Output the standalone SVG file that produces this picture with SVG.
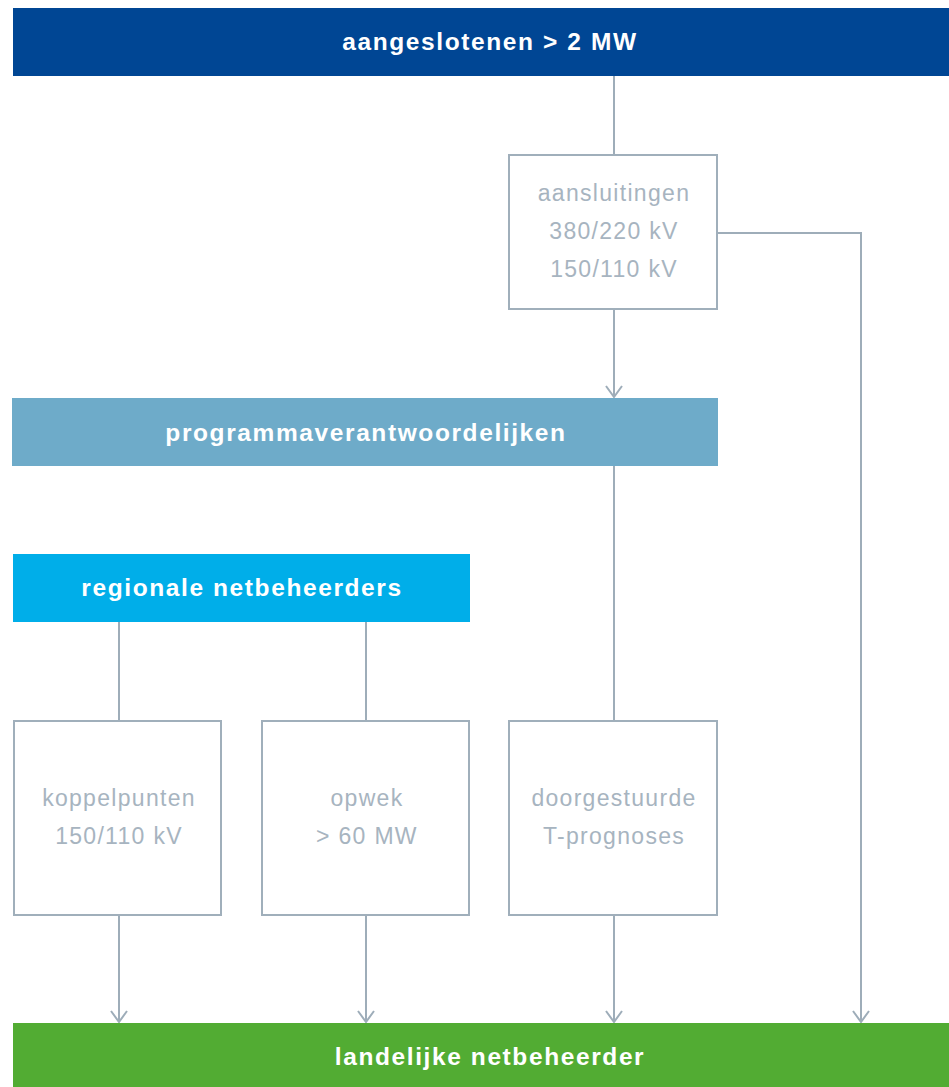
<svg xmlns="http://www.w3.org/2000/svg" width="949" height="1087" viewBox="0 0 949 1087">
<defs>
<style>
.bar{stroke:none}
.bt{font-family:"Liberation Sans",Arial,sans-serif;font-weight:bold;font-size:24.5px;letter-spacing:1.6px;fill:#ffffff;text-anchor:middle}
.box{fill:#ffffff;stroke:#a0afbb;stroke-width:2}
.tt{font-family:"Liberation Sans",Arial,sans-serif;font-size:23px;letter-spacing:1.3px;fill:#a7b4c0;text-anchor:middle}
.con{fill:none;stroke:#9eadb9;stroke-width:2}
</style>
<marker id="arr" markerWidth="14" markerHeight="20" refX="13" refY="10" orient="auto" markerUnits="userSpaceOnUse" viewBox="0 0 14 20">
<path d="M2,2 L13,10 L2,18" fill="none" stroke="#9eadb9" stroke-width="2"/>
</marker>
</defs>
<rect width="949" height="1087" fill="#ffffff"/>
<g id="connectors">
<path class="con" d="M614,76 V155"/>
<path class="con" d="M614,309 V397" marker-end="url(#arr)"/>
<path class="con" d="M717,233 H861 V1022" marker-end="url(#arr)"/>
<path class="con" d="M614,466 V721"/>
<path class="con" d="M119,622 V721"/>
<path class="con" d="M366,622 V721"/>
<path class="con" d="M119,915 V1022" marker-end="url(#arr)"/>
<path class="con" d="M366,915 V1022" marker-end="url(#arr)"/>
<path class="con" d="M614,915 V1022" marker-end="url(#arr)"/>
</g>
<g id="aangeslotenen">
<rect class="bar" x="13" y="8" width="936" height="68" fill="#004694"/>
<text class="bt" x="490" y="50">aangeslotenen &gt; 2 MW</text>
</g>
<g id="aansluitingen">
<rect class="box" x="509" y="155" width="208" height="154"/>
<text class="tt" x="614" y="201">aansluitingen</text>
<text class="tt" x="614" y="239">380/220 kV</text>
<text class="tt" x="614" y="277">150/110 kV</text>
</g>
<g id="programmaverantwoordelijken">
<rect class="bar" x="12" y="398" width="706" height="68" fill="#6eabc9"/>
<text class="bt" x="366" y="441">programmaverantwoordelijken</text>
</g>
<g id="regionale">
<rect class="bar" x="13" y="554" width="457" height="68" fill="#00aee9"/>
<text class="bt" x="242" y="596">regionale netbeheerders</text>
</g>
<g id="koppelpunten">
<rect class="box" x="14" y="721" width="207" height="194"/>
<text class="tt" x="119" y="806">koppelpunten</text>
<text class="tt" x="119" y="844">150/110 kV</text>
</g>
<g id="opwek">
<rect class="box" x="262" y="721" width="207" height="194"/>
<text class="tt" x="367" y="806">opwek</text>
<text class="tt" x="367" y="844">&gt; 60 MW</text>
</g>
<g id="doorgestuurde">
<rect class="box" x="509" y="721" width="208" height="194"/>
<text class="tt" x="614" y="806">doorgestuurde</text>
<text class="tt" x="614" y="844">T-prognoses</text>
</g>
<g id="landelijke">
<rect class="bar" x="13" y="1023" width="936" height="64" fill="#52ac33"/>
<text class="bt" x="490" y="1065">landelijke netbeheerder</text>
</g>
</svg>
